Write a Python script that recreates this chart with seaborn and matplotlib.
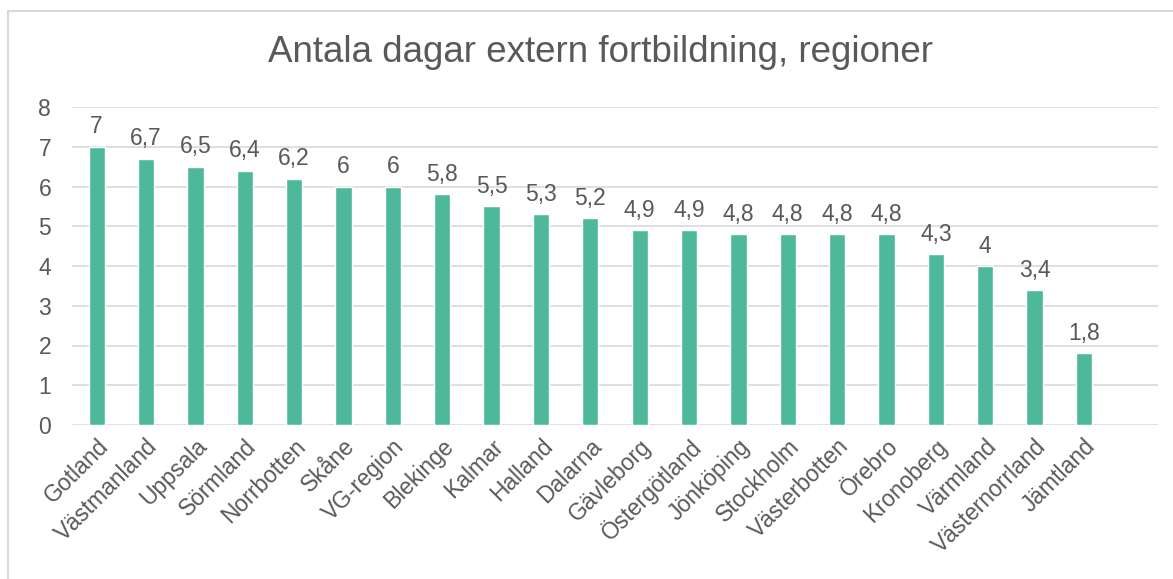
import matplotlib
matplotlib.use("Agg")
import matplotlib.pyplot as plt
import seaborn as sns
import pandas as pd
from matplotlib.patches import Rectangle

sns.set_style("white")
plt.rcParams['font.family'] = ['Liberation Sans', 'DejaVu Sans']

regioner = ['Gotland', 'Västmanland', 'Uppsala', 'Sörmland', 'Norrbotten', 'Skåne',
            'VG-region', 'Blekinge', 'Kalmar', 'Halland', 'Dalarna', 'Gävleborg',
            'Östergötland', 'Jönköping', 'Stockholm', 'Västerbotten', 'Örebro',
            'Kronoberg', 'Värmland', 'Västernorrland', 'Jämtland']
dagar = [7, 6.7, 6.5, 6.4, 6.2, 6, 6, 5.8, 5.5, 5.3, 5.2, 4.9, 4.9, 4.8, 4.8, 4.8,
         4.8, 4.3, 4, 3.4, 1.8]
titel = 'Antala dagar extern fortbildning, regioner'

farg = '#4DB89A'
text_farg = '#595959'
grid_farg = '#D9D9D9'

df = pd.DataFrame({'Region': regioner, 'Dagar': dagar})

fig = plt.figure(figsize=(11.73, 5.79), dpi=100)
ax = fig.add_axes([72 / 1173, 154 / 579, 1086 / 1173, 318 / 579])

sns.barplot(data=df, x='Region', y='Dagar', color=farg, width=0.33,
            saturation=1, ax=ax, zorder=3)

for i, v in enumerate(dagar):
    etikett = f'{v:g}'.replace('.', ',')
    ax.annotate(etikett, (i, v), xytext=(0, 6), textcoords='offset points',
                ha='center', va='bottom', fontsize=16.5, color=text_farg)

ax.set_xlim(-0.5, 21.5)
ax.set_ylim(0, 8)
ax.set_yticks(range(0, 9))
ax.yaxis.grid(True, color=grid_farg, linewidth=1.2, zorder=0)
ax.set_axisbelow(True)
for s in ax.spines.values():
    s.set_visible(False)
ax.tick_params(axis='both', length=0, labelsize=16.5, colors=text_farg)
ax.tick_params(axis='y', pad=15)
ax.tick_params(axis='x', pad=7)
ax.set_xticks(range(len(regioner)))
ax.set_xticklabels(regioner, rotation=45, ha='right', rotation_mode='anchor')
ax.set_xlabel('')
ax.set_ylabel('')

fig.text(600 / 1173, 1 - 52 / 579, titel, ha='center', va='center',
         fontsize=26.5, color=text_farg)

fig.patches.append(Rectangle((8 / 1173, -0.1), 1.2, 1 - 11 / 579 + 0.1,
                             transform=fig.transFigure, fill=False,
                             edgecolor=grid_farg, linewidth=1.5))

fig.savefig('out.png', dpi=100)
